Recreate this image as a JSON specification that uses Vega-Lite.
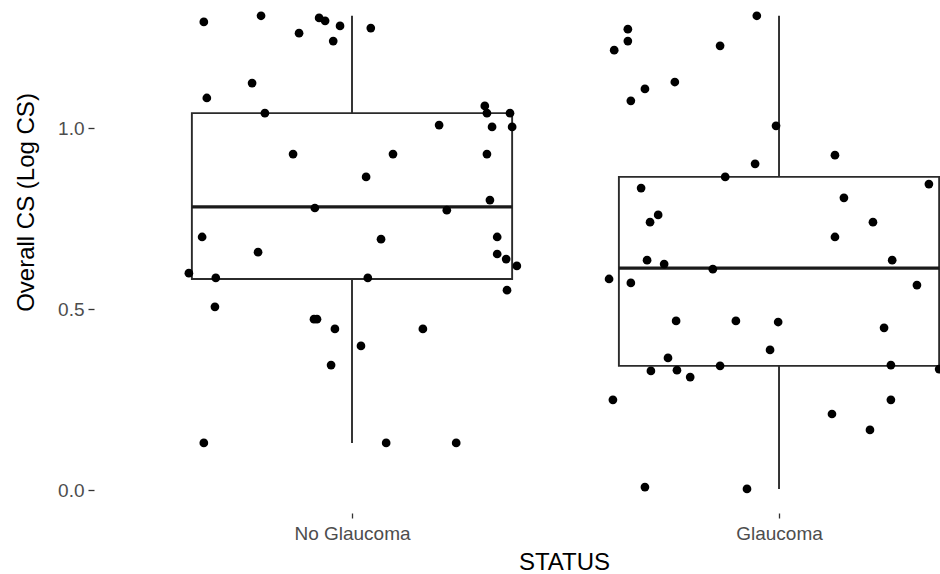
{
  "$schema": "https://vega.github.io/schema/vega-lite/v6.json",
  "width": 846,
  "height": 513,
  "autosize": {"type": "none"},
  "padding": {"left": 94, "top": 0, "right": 0, "bottom": 61},
  "background": "white",
  "config": {
    "view": {"stroke": null},
    "font": "Liberation Sans",
    "axis": {
      "domain": false,
      "grid": false,
      "ticks": true,
      "tickColor": "#333333",
      "tickWidth": 1.3,
      "labelFont": "Liberation Sans",
      "labelFontSize": 19,
      "labelColor": "#4d4d4d",
      "titleFont": "Liberation Sans",
      "titleFontSize": 24,
      "titleFontWeight": "normal",
      "titleColor": "#000000"
    },
    "axisY": {
      "tickSize": 6,
      "labelPadding": 4,
      "titleAngle": -90,
      "titleX": -61,
      "titleY": 202,
      "titleAlign": "center",
      "titleBaseline": "alphabetic"
    },
    "axisX": {
      "tickSize": 5,
      "labelPadding": 6,
      "labelAngle": 0,
      "titleX": 470,
      "titleY": 56,
      "titleAlign": "center",
      "titleBaseline": "alphabetic"
    }
  },
  "datasets": {
    "boxes": [
      {"status": "No Glaucoma", "lo": 0.13, "q1": 0.583, "median": 0.782, "q3": 1.041, "hi": 1.31},
      {"status": "Glaucoma", "lo": 0.003, "q1": 0.343, "median": 0.613, "q3": 0.865, "hi": 1.31}
    ],
    "subjects": [
      {"status": "No Glaucoma", "cs": 1.293, "jitter": -0.347},
      {"status": "No Glaucoma", "cs": 1.31, "jitter": -0.213},
      {"status": "No Glaucoma", "cs": 1.262, "jitter": -0.124},
      {"status": "No Glaucoma", "cs": 1.304, "jitter": -0.077},
      {"status": "No Glaucoma", "cs": 1.296, "jitter": -0.063},
      {"status": "No Glaucoma", "cs": 1.282, "jitter": -0.028},
      {"status": "No Glaucoma", "cs": 1.24, "jitter": -0.044},
      {"status": "No Glaucoma", "cs": 1.276, "jitter": 0.044},
      {"status": "No Glaucoma", "cs": 1.124, "jitter": -0.234},
      {"status": "No Glaucoma", "cs": 1.083, "jitter": -0.34},
      {"status": "No Glaucoma", "cs": 1.041, "jitter": -0.204},
      {"status": "No Glaucoma", "cs": 1.061, "jitter": 0.311},
      {"status": "No Glaucoma", "cs": 1.041, "jitter": 0.316},
      {"status": "No Glaucoma", "cs": 1.041, "jitter": 0.37},
      {"status": "No Glaucoma", "cs": 1.003, "jitter": 0.375},
      {"status": "No Glaucoma", "cs": 1.003, "jitter": 0.328},
      {"status": "No Glaucoma", "cs": 1.008, "jitter": 0.204},
      {"status": "No Glaucoma", "cs": 0.928, "jitter": -0.138},
      {"status": "No Glaucoma", "cs": 0.928, "jitter": 0.096},
      {"status": "No Glaucoma", "cs": 0.928, "jitter": 0.316},
      {"status": "No Glaucoma", "cs": 0.865, "jitter": 0.033},
      {"status": "No Glaucoma", "cs": 0.801, "jitter": 0.323},
      {"status": "No Glaucoma", "cs": 0.779, "jitter": -0.087},
      {"status": "No Glaucoma", "cs": 0.773, "jitter": 0.222},
      {"status": "No Glaucoma", "cs": 0.699, "jitter": -0.351},
      {"status": "No Glaucoma", "cs": 0.657, "jitter": -0.22},
      {"status": "No Glaucoma", "cs": 0.693, "jitter": 0.068},
      {"status": "No Glaucoma", "cs": 0.699, "jitter": 0.34},
      {"status": "No Glaucoma", "cs": 0.652, "jitter": 0.34},
      {"status": "No Glaucoma", "cs": 0.638, "jitter": 0.361},
      {"status": "No Glaucoma", "cs": 0.619, "jitter": 0.386},
      {"status": "No Glaucoma", "cs": 0.599, "jitter": -0.382},
      {"status": "No Glaucoma", "cs": 0.586, "jitter": -0.319},
      {"status": "No Glaucoma", "cs": 0.586, "jitter": 0.037},
      {"status": "No Glaucoma", "cs": 0.506, "jitter": -0.321},
      {"status": "No Glaucoma", "cs": 0.552, "jitter": 0.363},
      {"status": "No Glaucoma", "cs": 0.472, "jitter": -0.089},
      {"status": "No Glaucoma", "cs": 0.472, "jitter": -0.082},
      {"status": "No Glaucoma", "cs": 0.445, "jitter": -0.04},
      {"status": "No Glaucoma", "cs": 0.445, "jitter": 0.166},
      {"status": "No Glaucoma", "cs": 0.398, "jitter": 0.021},
      {"status": "No Glaucoma", "cs": 0.345, "jitter": -0.049},
      {"status": "No Glaucoma", "cs": 0.13, "jitter": -0.347},
      {"status": "No Glaucoma", "cs": 0.13, "jitter": 0.08},
      {"status": "No Glaucoma", "cs": 0.13, "jitter": 0.244},
      {"status": "Glaucoma", "cs": 1.273, "jitter": -0.354},
      {"status": "Glaucoma", "cs": 1.24, "jitter": -0.354},
      {"status": "Glaucoma", "cs": 1.215, "jitter": -0.386},
      {"status": "Glaucoma", "cs": 1.227, "jitter": -0.138},
      {"status": "Glaucoma", "cs": 1.31, "jitter": -0.052},
      {"status": "Glaucoma", "cs": 1.127, "jitter": -0.244},
      {"status": "Glaucoma", "cs": 1.108, "jitter": -0.314},
      {"status": "Glaucoma", "cs": 1.075, "jitter": -0.347},
      {"status": "Glaucoma", "cs": 1.006, "jitter": -0.007},
      {"status": "Glaucoma", "cs": 0.925, "jitter": 0.131},
      {"status": "Glaucoma", "cs": 0.901, "jitter": -0.056},
      {"status": "Glaucoma", "cs": 0.865, "jitter": -0.126},
      {"status": "Glaucoma", "cs": 0.834, "jitter": -0.323},
      {"status": "Glaucoma", "cs": 0.845, "jitter": 0.351},
      {"status": "Glaucoma", "cs": 0.807, "jitter": 0.152},
      {"status": "Glaucoma", "cs": 0.76, "jitter": -0.283},
      {"status": "Glaucoma", "cs": 0.74, "jitter": -0.302},
      {"status": "Glaucoma", "cs": 0.74, "jitter": 0.22},
      {"status": "Glaucoma", "cs": 0.699, "jitter": 0.131},
      {"status": "Glaucoma", "cs": 0.635, "jitter": -0.309},
      {"status": "Glaucoma", "cs": 0.624, "jitter": -0.269},
      {"status": "Glaucoma", "cs": 0.635, "jitter": 0.265},
      {"status": "Glaucoma", "cs": 0.61, "jitter": -0.155},
      {"status": "Glaucoma", "cs": 0.583, "jitter": -0.398},
      {"status": "Glaucoma", "cs": 0.572, "jitter": -0.347},
      {"status": "Glaucoma", "cs": 0.566, "jitter": 0.323},
      {"status": "Glaucoma", "cs": 0.467, "jitter": -0.241},
      {"status": "Glaucoma", "cs": 0.467, "jitter": -0.101},
      {"status": "Glaucoma", "cs": 0.464, "jitter": -0.002},
      {"status": "Glaucoma", "cs": 0.448, "jitter": 0.246},
      {"status": "Glaucoma", "cs": 0.387, "jitter": -0.021},
      {"status": "Glaucoma", "cs": 0.365, "jitter": -0.26},
      {"status": "Glaucoma", "cs": 0.329, "jitter": -0.3},
      {"status": "Glaucoma", "cs": 0.331, "jitter": -0.239},
      {"status": "Glaucoma", "cs": 0.312, "jitter": -0.208},
      {"status": "Glaucoma", "cs": 0.343, "jitter": -0.138},
      {"status": "Glaucoma", "cs": 0.345, "jitter": 0.262},
      {"status": "Glaucoma", "cs": 0.334, "jitter": 0.375},
      {"status": "Glaucoma", "cs": 0.249, "jitter": -0.389},
      {"status": "Glaucoma", "cs": 0.249, "jitter": 0.262},
      {"status": "Glaucoma", "cs": 0.21, "jitter": 0.124},
      {"status": "Glaucoma", "cs": 0.166, "jitter": 0.213},
      {"status": "Glaucoma", "cs": 0.008, "jitter": -0.314},
      {"status": "Glaucoma", "cs": 0.003, "jitter": -0.075}
    ]
  },
  "layer": [
    {
      "data": {"name": "boxes"},
      "transform": [
        {"calculate": "indexof(['No Glaucoma', 'Glaucoma'], datum.status) + 1", "as": "pos"}
      ],
      "mark": {"type": "rule", "stroke": "#2b2b2b", "strokeWidth": 1.9, "clip": true},
      "encoding": {
        "x": {
          "field": "pos",
          "type": "quantitative",
          "title": "STATUS",
          "scale": {"domain": [0.3958, 2.377], "nice": false, "zero": false},
          "axis": {"values": [1, 2], "labelExpr": "datum.value == 1 ? 'No Glaucoma' : 'Glaucoma'"}
        },
        "y": {
          "field": "q3",
          "type": "quantitative",
          "title": "Overall CS (Log CS)",
          "scale": {"domain": [-0.0635, 1.3536], "nice": false, "zero": false},
          "axis": {"values": [0, 0.5, 1], "format": ".1f"}
        },
        "y2": {"field": "hi"}
      }
    },
    {
      "data": {"name": "boxes"},
      "transform": [
        {"calculate": "indexof(['No Glaucoma', 'Glaucoma'], datum.status) + 1", "as": "pos"}
      ],
      "mark": {"type": "rule", "stroke": "#2b2b2b", "strokeWidth": 1.9, "clip": true},
      "encoding": {
        "x": {"field": "pos", "type": "quantitative", "title": "STATUS"},
        "y": {"field": "lo", "type": "quantitative", "title": "Overall CS (Log CS)"},
        "y2": {"field": "q1"}
      }
    },
    {
      "data": {"name": "boxes"},
      "transform": [
        {"calculate": "indexof(['No Glaucoma', 'Glaucoma'], datum.status) + 1", "as": "pos"},
        {"calculate": "datum.pos - 0.375", "as": "left"},
        {"calculate": "datum.pos + 0.375", "as": "right"}
      ],
      "mark": {"type": "rect", "fill": "white", "stroke": "#2b2b2b", "strokeWidth": 1.9, "clip": true},
      "encoding": {
        "x": {"field": "left", "type": "quantitative", "title": "STATUS"},
        "x2": {"field": "right"},
        "y": {"field": "q1", "type": "quantitative", "title": "Overall CS (Log CS)"},
        "y2": {"field": "q3"}
      }
    },
    {
      "data": {"name": "boxes"},
      "transform": [
        {"calculate": "indexof(['No Glaucoma', 'Glaucoma'], datum.status) + 1", "as": "pos"},
        {"calculate": "datum.pos - 0.375", "as": "left"},
        {"calculate": "datum.pos + 0.375", "as": "right"}
      ],
      "mark": {"type": "rule", "stroke": "#1a1a1a", "strokeWidth": 3.4, "clip": true},
      "encoding": {
        "x": {"field": "left", "type": "quantitative", "title": "STATUS"},
        "x2": {"field": "right"},
        "y": {"field": "median", "type": "quantitative", "title": "Overall CS (Log CS)"}
      }
    },
    {
      "data": {"name": "subjects"},
      "transform": [
        {"calculate": "indexof(['No Glaucoma', 'Glaucoma'], datum.status) + 1 + datum.jitter", "as": "xpos"}
      ],
      "mark": {"type": "circle", "size": 76, "fill": "#000000", "opacity": 1, "clip": true},
      "encoding": {
        "x": {"field": "xpos", "type": "quantitative", "title": "STATUS"},
        "y": {"field": "cs", "type": "quantitative", "title": "Overall CS (Log CS)"}
      }
    }
  ]
}
